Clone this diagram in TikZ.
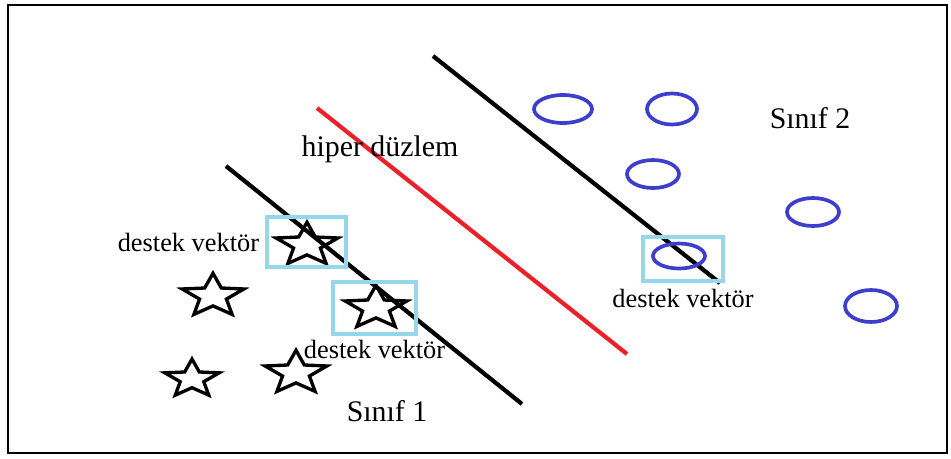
\documentclass[tikz,border=0pt]{standalone}
\usepackage{fontspec}
\setmainfont{Liberation Serif}
\usetikzlibrary{shapes.geometric}

\definecolor{svblue}{RGB}{150,214,234}
\definecolor{ptblue}{RGB}{62,62,205}
\definecolor{hypred}{RGB}{236,32,40}

\begin{document}
\begin{tikzpicture}[
  x=0.02cm, y=-0.02cm,
  pt1/.style={draw,star,star points=5,star point ratio=2.3,inner sep=0pt,
              minimum size=1.3cm,line width=1.9pt,yscale=0.7,transform shape},
  starpt/.pic={\node[pt1,#1] (-s) {};},
  starpt/.default={},
  pt2/.style={draw=ptblue,ellipse,inner sep=0pt,minimum width=1.04cm,
              minimum height=0.56cm,line width=2.1pt},
  svbox/.style={draw=svblue,inner sep=0pt,line width=2pt},
  margin/.style={line width=2.4pt},
  lbl/.style={font=\fontsize{17}{20}\selectfont},
  svlbl/.style={font=\fontsize{15}{18}\selectfont}
]
\useasboundingbox (0,0) rectangle (951,458);
\draw[line width=1.4pt] (8,5) rectangle (947,453);

% margins and hyperplane
\coordinate (m1a) at (226,166);
\coordinate (m1b) at (522,404);
\coordinate (m2a) at (433,56);
\coordinate (m2b) at (720,283);
\coordinate (ha) at (317,108);
\coordinate (hb) at (627,354);
\draw[margin] (m1a) -- (m1b);
\draw[margin] (m2a) -- (m2b);
\draw[margin,hypred] (ha) -- (hb);

% class 1
\pic (s1) at (307,245) {starpt};
\pic (s2) at (376,308) {starpt};
\pic (s3) at (213,296) {starpt};
\pic (s4) at (192,379) {starpt={minimum size=1.14cm}};
\pic (s5) at (296,373) {starpt};

% class 2
\node[pt2,minimum width=1.16cm] (c1) at (563,109) {};
\node[pt2,minimum width=1.0cm,minimum height=0.62cm] (c2) at (672,109) {};
\node[pt2] (c3) at (653,174) {};
\node[pt2] (c4) at (813,212) {};
\node[pt2,minimum height=0.5cm] (c5) at (679,256) {};
\node[pt2,minimum height=0.64cm] (c6) at (871,306) {};

% support vectors
\node[svbox,minimum width=1.58cm,minimum height=1.0cm] (b1) at (306.5,242) {};
\node[svbox,minimum width=1.66cm,minimum height=1.04cm] (b2) at (374.5,308) {};
\node[svbox,minimum width=1.6cm,minimum height=0.88cm] (b3) at (683,259) {};

\node[svlbl,anchor=east] (l1) at (b1.west) {destek vektör};
\node[svlbl,below=-1pt] (l2) at (b2.south) {destek vektör};
\node[svlbl,below=0pt] (l3) at (b3.south) {destek vektör};

\node[lbl] (h) at (380,149) {hiper düzlem};
\node[lbl] (k1) at (387,411) {Sınıf 1};
\node[lbl] (k2) at (810,118) {Sınıf 2};
\end{tikzpicture}
\end{document}
